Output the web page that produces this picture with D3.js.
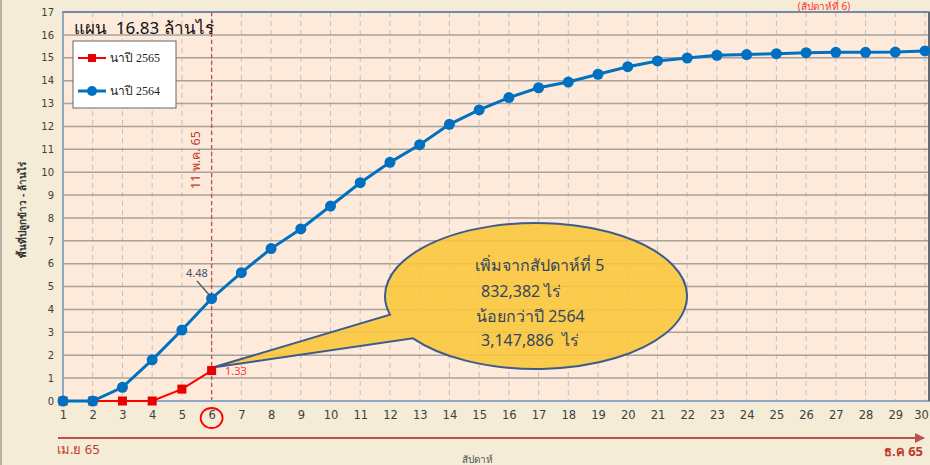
<!DOCTYPE html>
<html><head><meta charset="utf-8">
<script src="https://cdn.jsdelivr.net/npm/d3@7/dist/d3.min.js"></script>
<style>
html,body{margin:0;padding:0;background:#F4ECD6;}
svg{display:block;font-family:Tahoma,"Noto Sans","DejaVu Sans",sans-serif;}
text{white-space:pre;}
</style></head>
<body><svg id="c" width="930" height="465"></svg>
<script>
const weeks = d3.range(1, 31);
const yTicks = d3.range(0, 18);
const series2564 = [0,0,0.6,1.8,3.1,4.48,5.61,6.66,7.52,8.52,9.54,10.43,11.2,12.09,12.72,13.26,13.69,13.94,14.28,14.61,14.86,14.99,15.11,15.14,15.18,15.22,15.24,15.24,15.25,15.3];
const series2565 = [0,0,0,0,0.52,1.33];
const legendLabels = ["นาปี 2565","นาปี 2564"];
const titleText = "แผน  16.83 ล้านไร่";
const bubbleLines = ["เพิ่มจากสัปดาห์ที่ 5","832,382 ไร่","น้อยกว่าปี 2564","3,147,886  ไร่"];

const svg = d3.select("#c");
const L=63, R=929, T=12, B=401;
const x = d3.scaleLinear().domain([1,30]).range([63,925]);
const y = d3.scaleLinear().domain([0,17]).range([B,T]);
const blue="#0070C0", red="#FF0000";

svg.append("rect").attr("width",930).attr("height",465).attr("fill","#F4ECD6");
svg.append("rect").attr("x",0).attr("y",0).attr("width",2).attr("height",465).attr("fill","#B8B2A6");
svg.append("rect").attr("x",L).attr("y",T).attr("width",R-L).attr("height",B-T).attr("fill","#FDEADB");

// vertical dashed gridlines
svg.append("g").selectAll("line").data(weeks.slice(1)).join("line")
  .attr("x1",d=>x(d)).attr("x2",d=>x(d)).attr("y1",T).attr("y2",B)
  .attr("stroke","#C6BFB6").attr("stroke-width",1).attr("stroke-dasharray","5,4");
// horizontal gridlines
svg.append("g").selectAll("line").data(yTicks.slice(1)).join("line")
  .attr("x1",L).attr("x2",R).attr("y1",d=>y(d)).attr("y2",d=>y(d))
  .attr("stroke","#A8A29C").attr("stroke-width",1.5);

// red dashed marker line at week 6
svg.append("line").attr("x1",x(6)).attr("x2",x(6)).attr("y1",T).attr("y2",B)
  .attr("stroke","#C0504D").attr("stroke-width",1.3).attr("stroke-dasharray","4,3");
svg.append("text").attr("transform",`translate(${x(6)-16},160) rotate(-90)`)
  .attr("text-anchor","middle").attr("dominant-baseline","central")
  .attr("fill","#C0392B").attr("font-size",12.5).text("11 พ.ค. 65");

// callout bubble
const cx=536, cy=296, rx=151, ry=73;
const tip=[x(6)+1, y(1.33)-3];
const a1 = Math.PI - Math.acos(146/151), a2 = Math.PI - Math.acos(123/151);
const p1=[cx+rx*Math.cos(a1), cy+ry*Math.sin(a1)], p2=[cx+rx*Math.cos(a2), cy+ry*Math.sin(a2)];
svg.append("path")
  .attr("d",`M${tip[0]},${tip[1]} L${p1[0]},${p1[1]} A${rx},${ry} 0 1 1 ${p2[0]},${p2[1]} Z`)
  .attr("fill","#FAC63A").attr("fill-opacity",0.88).attr("stroke","#3E5C8A").attr("stroke-width",2);
const bx=[475,481,476,481], by=[271,297,322,346];
svg.append("g").selectAll("text").data(bubbleLines).join("text")
  .attr("x",(d,i)=>bx[i]).attr("y",(d,i)=>by[i]).attr("fill","#34465F").attr("font-size",16).text(d=>d);

// axes
const ya = svg.append("g").attr("transform",`translate(${L-9},0)`)
  .call(d3.axisLeft(y).tickValues(yTicks).tickSize(0).tickPadding(0));
ya.select(".domain").remove();
ya.selectAll("text").attr("fill","#404040").attr("font-size",10).attr("font-family","Tahoma,'DejaVu Sans',sans-serif");
const xa = svg.append("g").attr("transform",`translate(0,${B+10})`)
  .call(d3.axisBottom(x).tickValues(weeks).tickSize(0).tickPadding(0));
xa.select(".domain").remove();
xa.selectAll("text").attr("fill","#404040").attr("font-size",11.5).attr("font-family","Tahoma,'DejaVu Sans',sans-serif");
xa.selectAll(".tick").filter(d=>d===30).select("text").attr("dx",-4);

svg.append("text").attr("transform","translate(22,210) rotate(-90)")
  .attr("text-anchor","middle").attr("dominant-baseline","central")
  .attr("fill","#333").attr("font-size",10).attr("font-weight","bold").text("พื้นที่ปลูกข้าว - ล้านไร่");

// plot frame
svg.append("rect").attr("x",L).attr("y",T).attr("width",R-L).attr("height",B-T)
  .attr("fill","none").attr("stroke","#8FA6C4").attr("stroke-width",2);
svg.append("line").attr("x1",R).attr("x2",R).attr("y1",T).attr("y2",B).attr("stroke","#555").attr("stroke-width",1.5);
svg.append("line").attr("x1",L).attr("x2",R).attr("y1",T).attr("y2",T).attr("stroke","#6d7f99").attr("stroke-width",1.5);

// series
const line = d3.line().x((d,i)=>x(i+1)).y(d=>y(d));
svg.append("path").datum(series2565).attr("d",line).attr("fill","none").attr("stroke",red).attr("stroke-width",2);
svg.append("g").selectAll("rect").data(series2565).join("rect")
  .attr("x",(d,i)=>x(i+1)-4.5).attr("y",d=>y(d)-4.5).attr("width",9).attr("height",9).attr("fill","#E60000");
svg.append("path").datum(series2564).attr("d",line).attr("fill","none").attr("stroke",blue).attr("stroke-width",3);
svg.append("g").selectAll("circle").data(series2564).join("circle")
  .attr("cx",(d,i)=>x(i+1)).attr("cy",d=>y(d)).attr("r",5.5).attr("fill",blue);

// value labels
svg.append("line").attr("x1",197).attr("y1",281).attr("x2",x(6)-1).attr("y2",y(4.48)-2)
  .attr("stroke","#44546A").attr("stroke-width",1.2);
svg.append("text").attr("x",197).attr("y",277).attr("text-anchor","middle")
  .attr("fill","#44546A").attr("font-size",11).text(series2564[5].toFixed(2));
svg.append("text").attr("x",225).attr("y",375)
  .attr("fill","#FF3B3B").attr("font-size",11).text(series2565[5].toFixed(2));

// title
svg.append("text").attr("x",74).attr("y",34).attr("fill","#111").attr("font-size",17).text(titleText);

// legend
svg.append("rect").attr("x",73).attr("y",41).attr("width",103).attr("height",67)
  .attr("fill","#fff").attr("stroke","#666").attr("stroke-width",1);
const lg = [ {y:58,c:red,m:"sq"}, {y:91,c:blue,m:"ci"} ];
lg.forEach((e,i)=>{
  svg.append("line").attr("x1",78).attr("x2",106).attr("y1",e.y).attr("y2",e.y).attr("stroke",e.c).attr("stroke-width",i?3:2);
  if(e.m==="sq") svg.append("rect").attr("x",88).attr("y",e.y-4).attr("width",8).attr("height",8).attr("fill","#E60000");
  else svg.append("circle").attr("cx",92).attr("cy",e.y).attr("r",5).attr("fill",blue);
  svg.append("text").attr("x",110).attr("y",e.y+4).attr("fill","#222").attr("font-size",12)
    .attr("font-family","'Liberation Serif','DejaVu Serif',serif").text(legendLabels[i]);
});

// week circle
svg.append("ellipse").attr("cx",x(6)).attr("cy",418).attr("rx",11).attr("ry",10)
  .attr("fill","none").attr("stroke","#FF0000").attr("stroke-width",1.8);

// bottom timeline arrow
svg.append("defs").append("marker").attr("id","ah").attr("viewBox","0 0 10 10").attr("refX",9).attr("refY",5)
  .attr("markerWidth",5).attr("markerHeight",5).attr("orient","auto")
  .append("path").attr("d","M0,0 L10,5 L0,10 Z").attr("fill","#C0504D");
svg.append("line").attr("x1",58).attr("x2",924).attr("y1",438).attr("y2",438)
  .attr("stroke","#C0504D").attr("stroke-width",2).attr("marker-end","url(#ah)");
svg.append("text").attr("x",57).attr("y",454).attr("fill","#C0392B").attr("font-size",13).text("เม.ย 65");
svg.append("text").attr("x",923).attr("y",456).attr("text-anchor","end").attr("fill","#C0392B").attr("font-size",13).attr("font-weight","bold").text("ธ.ค 65");
svg.append("text").attr("x",462).attr("y",463).attr("fill","#555").attr("font-size",10).text("สัปดาห์");

// top-right note
svg.append("text").attr("x",824).attr("y",10).attr("text-anchor","middle").attr("fill","#FF3333").attr("font-size",10).text("(สัปดาห์ที่ 6)");
</script></body></html>
